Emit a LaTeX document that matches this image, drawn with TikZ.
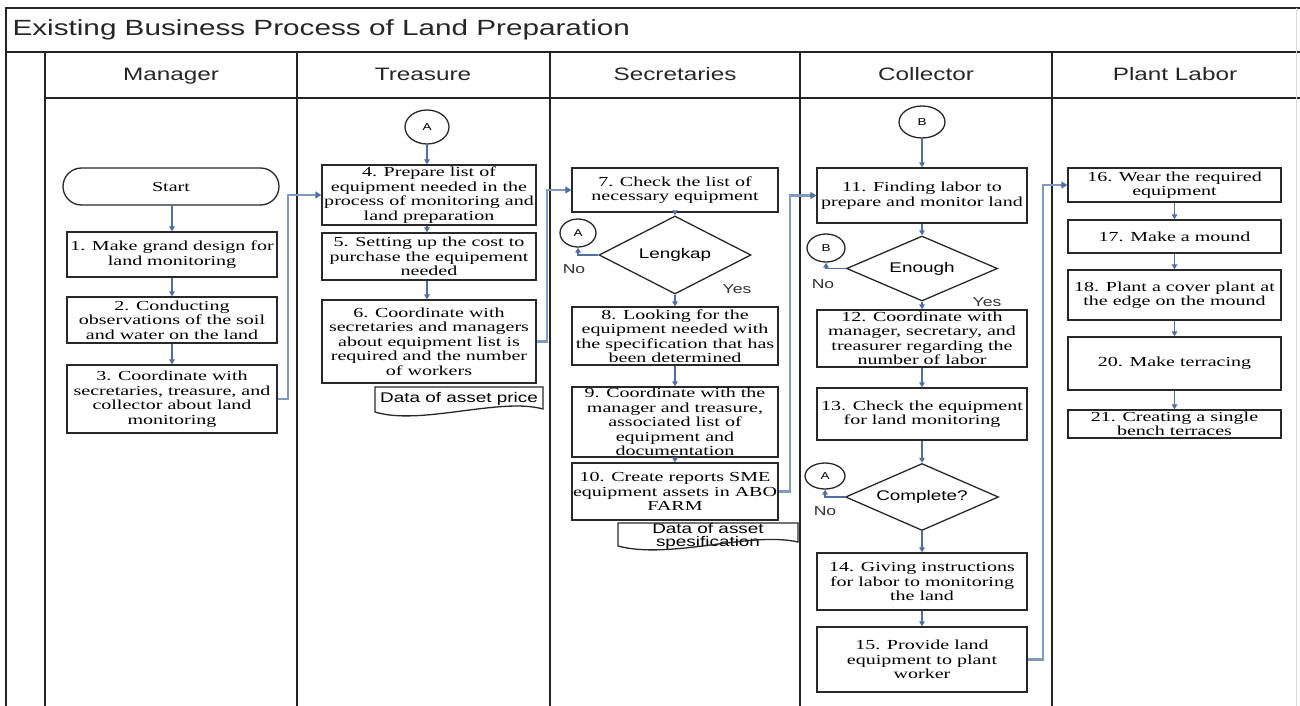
\documentclass[tikz,border=0pt]{standalone}
\usepackage{fontspec}
\setmainfont{Liberation Serif}[FakeStretch=1.45]
\newfontfamily\sansf{Liberation Sans}[FakeStretch=1.35]
\usetikzlibrary{shapes.geometric,shapes.misc,arrows.meta}
\definecolor{frame}{RGB}{35,35,35}
\definecolor{arrblue}{RGB}{78,110,165}
\definecolor{connblue}{RGB}{128,153,193}
\definecolor{boxline}{RGB}{40,40,40}
\begin{document}
\begin{tikzpicture}[x=1pt,y=-1pt,
  frameline/.style={draw=frame,line width=1.6pt},
  faintline/.style={draw=black!15,line width=0.8pt},
  procbox/.style={draw=boxline,line width=1.3pt,fill=white,align=center,inner sep=0pt,
    font=\fontsize{13.8}{14.5}\selectfont},
  termbox/.style={draw=boxline,line width=1.3pt,fill=white,rounded rectangle,inner sep=0pt,
    font=\fontsize{13.8}{14.5}\selectfont},
  decision/.style={draw=boxline,line width=1.3pt,fill=white,diamond,aspect=2,inner sep=0pt,
    font=\sansf\fontsize{14}{15}\selectfont},
  connector/.style={draw=boxline,line width=1.3pt,fill=white,ellipse,inner sep=0pt,
    font=\sansf\fontsize{10}{11}\selectfont},
  lanehead/.style={font=\sansf\fontsize{18}{20}\selectfont,text=black!85,anchor=base},
  titletext/.style={font=\sansf\fontsize{22}{24}\selectfont,text=black!85,anchor=west},
  doctext/.style={font=\sansf\fontsize{14}{13}\selectfont,align=center,inner sep=0pt},
  docline/.style={draw=boxline,line width=1.3pt},
  yesno/.style={font=\sansf\fontsize{13}{14}\selectfont,text=black!80,inner sep=0pt},
  arr/.style={draw=arrblue,line width=1.3pt,-{Triangle[length=5pt,width=5.5pt]}},
  conn/.style={draw=connblue,line width=2.4pt,-{Triangle[length=6pt,width=7pt,color=arrblue]}}
]
\useasboundingbox (0,0) rectangle (1300,706);

% ---------- pool frame ----------
\draw[frameline] (6,706) -- (6,8) -- (1300,8);
\draw[frameline] (6,52) -- (1300,52);
\draw[frameline] (45,52) -- (45,706);
\draw[frameline] (45,98) -- (1300,98);
\foreach \xx in {297,550,800,1052} \draw[frameline] (\xx,52) -- (\xx,706);
\draw[faintline] (1296,8) -- (1296,706);

\node[titletext] (title) at (9,30) {Existing Business Process of Land Preparation};
\node[lanehead] (hman) at (171,81) {Manager};
\node[lanehead] (htre) at (423,81) {Treasure};
\node[lanehead] (hsec) at (675,81) {Secretaries};
\node[lanehead] (hcol) at (926,81) {Collector};
\node[lanehead] (hpla) at (1175,81) {Plant Labor};

% ---------- Manager ----------
\node[termbox,minimum width=216,minimum height=37] (start) at (171,186.5) {Start};
\node[procbox,minimum width=210,minimum height=45] (b1) at (172,254.5) {1. Make grand design for\\land monitoring};
\node[procbox,minimum width=210,minimum height=46] (b2) at (172,320) {2. Conducting\\observations of the soil\\and water on the land};
\node[procbox,minimum width=210,minimum height=68] (b3) at (172,399) {3. Coordinate with\\secretaries, treasure, and\\collector about land\\monitoring};
\draw[arr] (start.south -| b1.north) -- (b1.north);
\draw[arr] (b1) -- (b2);
\draw[arr] (b2) -- (b3);

% ---------- Treasure ----------
\node[connector,minimum width=44,minimum height=34] (cA1) at (427,127) {A};
\node[procbox,minimum width=214,minimum height=60] (b4) at (429,195) {4. Prepare list of\\equipment needed in the\\process of monitoring and\\land preparation};
\node[procbox,minimum width=214,minimum height=47] (b5) at (429,256.5) {5. Setting up the cost to\\purchase the equipement\\needed};
\node[procbox,minimum width=214,minimum height=83] (b6) at (429,341.5) {6. Coordinate with\\secretaries and managers\\about equipment list is\\required and the number\\of workers};
\draw[arr] (cA1.south) -- (cA1.south |- b4.north);
\draw[arr] (b4.south -| cA1) -- (b5.north -| cA1);
\draw[arr] (b5.south -| cA1) -- (b6.north -| cA1);
\node[doctext] (doc1t) at (459,399) {Data of asset price};
\draw[docline] (375,387) -- (543,387) -- (543,409) .. controls (500,397) and (420,426) .. (375,412) -- cycle;

% ---------- Secretaries ----------
\node[procbox,minimum width=206,minimum height=44] (b7) at (675,190) {7. Check the list of\\necessary equipment};
\node[decision,minimum width=152,minimum height=78] (d1) at (675,255) {Lengkap};
\node[connector,minimum width=36,minimum height=28] (cA2) at (578,233) {A};
\node[yesno] (no1) at (574,269) {No};
\node[yesno] (yes1) at (737,289) {Yes};
\node[procbox,minimum width=206,minimum height=58] (b8) at (675,336) {8. Looking for the\\equipment needed with\\the specification that has\\been determined};
\node[procbox,minimum width=206,minimum height=70] (b9) at (675,422) {9. Coordinate with the\\manager and treasure,\\associated list of\\equipment and\\documentation};
\node[procbox,minimum width=206,minimum height=57] (b10) at (675,491.5) {10. Create reports SME\\equipment assets in ABO\\FARM};
\draw[arr] (b7) -- (d1);
\draw[arr] (d1.west) -| (cA2.south);
\draw[arr] (d1) -- (b8);
\draw[arr] (b8) -- (b9);
\draw[arr] (b9) -- (b10);
\node[doctext] (doc2t) at (708,536) {Data of asset\\spesification};
\draw[docline] (618,523) -- (798,523) -- (798,542) .. controls (750,531) and (670,560) .. (618,546) -- cycle;

% ---------- Collector ----------
\node[connector,minimum width=46,minimum height=32] (cB1) at (922,122) {B};
\node[procbox,minimum width=210,minimum height=55] (b11) at (922,195.5) {11. Finding labor to\\prepare and monitor land};
\node[decision,minimum width=151,minimum height=65] (d2) at (922,268.5) {Enough};
\node[connector,minimum width=38,minimum height=28] (cB2) at (826,248) {B};
\node[yesno] (no2) at (823,284) {No};
\node[yesno] (yes2) at (987,302) {Yes};
\node[procbox,minimum width=210,minimum height=57] (b12) at (922,338.5) {12. Coordinate with\\manager, secretary, and\\treasurer regarding the\\number of labor};
\node[procbox,minimum width=210,minimum height=52] (b13) at (922,414) {13. Check the equipment\\for land monitoring};
\node[decision,minimum width=153,minimum height=67] (d3) at (922,497) {Complete?};
\node[connector,minimum width=40,minimum height=26] (cA3) at (825,476) {A};
\node[yesno] (no3) at (825,511) {No};
\node[procbox,minimum width=210,minimum height=57] (b14) at (922,581.5) {14. Giving instructions\\for labor to monitoring\\the land};
\node[procbox,minimum width=210,minimum height=65] (b15) at (922,659.5) {15. Provide land\\equipment to plant\\worker};
\draw[arr] (cB1) -- (b11);
\draw[arr] (b11) -- (d2);
\draw[arr] (d2.west) -| (cB2.south);
\draw[arr] (d2) -- (b12);
\draw[arr] (b12) -- (b13);
\draw[arr] (b13) -- (d3);
\draw[arr] (d3.west) -| (cA3.south);
\draw[arr] (d3) -- (b14);
\draw[arr] (b14) -- (b15);

% ---------- Plant Labor ----------
\node[procbox,minimum width=213,minimum height=34] (b16) at (1174.5,185) {16. Wear the required\\equipment};
\node[procbox,minimum width=213,minimum height=33] (b17) at (1174.5,236.5) {17. Make a mound};
\node[procbox,minimum width=213,minimum height=50] (b18) at (1174.5,295) {18. Plant a cover plant at\\the edge on the mound};
\node[procbox,minimum width=213,minimum height=53] (b20) at (1174.5,363.5) {20. Make terracing};
\node[procbox,minimum width=213,minimum height=28] (b21) at (1174.5,424) {21. Creating a single\\bench terraces};
\draw[arr] (b16) -- (b17);
\draw[arr] (b17) -- (b18);
\draw[arr] (b18) -- (b20);
\draw[arr] (b20) -- (b21);

% ---------- lane-crossing connectors ----------
\coordinate (j1) at (288,0);
\coordinate (j2) at (547,0);
\coordinate (j3) at (790,0);
\coordinate (j4) at (1043,0);
\draw[conn] (b3.east) -- (b3.east -| j1) |- (b4.west);
\draw[conn] (b6.east) -- (b6.east -| j2) |- (b7.west);
\draw[conn] (b10.east) -- (b10.east -| j3) |- (b11.west);
\draw[conn] (b15.east) -- (b15.east -| j4) |- (b16.west);
\end{tikzpicture}
\end{document}
